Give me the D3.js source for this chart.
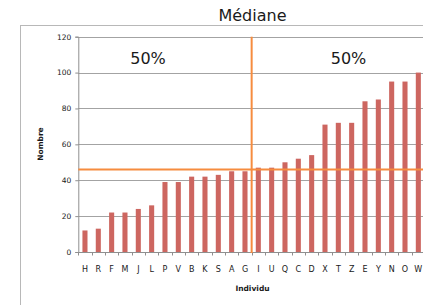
<!DOCTYPE html>
<html>
<head>
<meta charset="utf-8">
<script src="https://cdn.jsdelivr.net/npm/d3@7"></script>
<style>
  body { margin: 0; background: #fff; }
  text { font-family: "DejaVu Sans", sans-serif; fill: #1a1a1a; }
</style>
</head>
<body>
<svg id="chart"></svg>
<script>
// individus, triés par valeur
var individus = ["H","R","F","M","J","L","P","V","B","K","S","A","G","I","U","Q","C","D","X","T","Z","E","Y","N","O","W"];
var nombres   = [12, 13, 22, 22, 24, 26, 39, 39, 42, 42, 43, 45, 45, 47, 47, 50, 52, 54, 71, 72, 72, 84, 85, 95, 95, 100];
var yTicks    = [0, 20, 40, 60, 80, 100, 120];
var halfLabels = ["50%", "50%"];

var W = 423, H = 305;
var plot = {left: 78.3, right: 425, top: 36.7, bottom: 252};

var data = individus.map(function(d, i) { return {name: d, value: nombres[i]}; });
var mediane = d3.median(nombres);

var svg = d3.select('#chart')
    .attr('width', W)
    .attr('height', H);

// cadre du graphique
svg.append("rect")
    .attr("x", 20.5).attr("y", 25.5)
    .attr("width", 450).attr("height", 320)
    .attr("fill", "none")
    .attr("stroke", "#b8b8b8");

var x = d3.scaleBand()
    .domain(individus)
    .range([plot.left, plot.right])
    .paddingInner(0.62)
    .paddingOuter(0.31);

var y = d3.scaleLinear()
    .domain([0, 120])
    .range([plot.bottom, plot.top]);

// grille horizontale
svg.append("g").selectAll("line")
    .data(yTicks.slice(1))
    .enter().append("line")
        .attr("x1", plot.left).attr("x2", W + 5)
        .attr("y1", d => Math.round(y(d)) + 0.5)
        .attr("y2", d => Math.round(y(d)) + 0.5)
        .attr("stroke", "#a3a3a3");

// barres
svg.append("g").selectAll("rect")
    .data(data)
    .enter().append("rect")
        .attr("x", d => x(d.name))
        .attr("y", d => y(d.value))
        .attr("width", x.bandwidth())
        .attr("height", d => y(0) - y(d.value))
        .attr("fill", "#cd6660");

// axe Y
var yAxis = svg.append("g")
    .attr("transform", "translate(" + plot.left + ",0)")
    .call(d3.axisLeft(y).tickValues(yTicks).tickSize(3).tickPadding(4));
yAxis.select(".domain").attr("stroke", "#8f8f8f");
yAxis.selectAll(".tick line").attr("stroke", "#8f8f8f");
yAxis.selectAll(".tick text")
    .style("font-family", "DejaVu Sans, sans-serif")
    .style("font-size", "7.5px")
    .attr("fill", "#222");

// axe X
var xg = svg.append("g");
xg.append("line")
    .attr("x1", plot.left).attr("x2", W + 5)
    .attr("y1", y(0) + 0.5).attr("y2", y(0) + 0.5)
    .attr("stroke", "#8f8f8f");
var gap = (x.step() - x.bandwidth()) / 2;
xg.selectAll("line.tk")
    .data(individus)
    .enter().append("line")
        .attr("class", "tk")
        .attr("x1", d => Math.round(x(d) - gap) + 0.5)
        .attr("x2", d => Math.round(x(d) - gap) + 0.5)
        .attr("y1", y(0)).attr("y2", y(0) + 3.5)
        .attr("stroke", "#8f8f8f");
xg.selectAll("text")
    .data(individus)
    .enter().append("text")
        .attr("x", d => x(d) + x.bandwidth() / 2)
        .attr("y", 272)
        .attr("text-anchor", "middle")
        .style("font-size", "8px")
        .text(d => d);

// médiane
var xMed = x(individus[13]) - gap;
svg.append("line")
    .attr("x1", xMed).attr("x2", xMed)
    .attr("y1", y(120)).attr("y2", y(0) + 1)
    .attr("stroke", "#f68c3f")
    .attr("stroke-width", 2);
svg.append("line")
    .attr("x1", plot.left).attr("x2", W + 5)
    .attr("y1", y(mediane)).attr("y2", y(mediane))
    .attr("stroke", "#f68c3f")
    .attr("stroke-width", 2);

// textes
svg.append("text")
    .attr("x", 252.5).attr("y", 20.5)
    .attr("text-anchor", "middle")
    .style("font-size", "16px")
    .text("Médiane");

svg.selectAll("text.half")
    .data(halfLabels)
    .enter().append("text")
        .attr("class", "half")
        .attr("x", (d, i) => i == 0 ? 148 : 348.5)
        .attr("y", 64)
        .attr("text-anchor", "middle")
        .style("font-size", "16px")
        .text(d => d);

svg.append("text")
    .attr("transform", "translate(43,144) rotate(-90)")
    .attr("text-anchor", "middle")
    .style("font-size", "7.5px")
    .style("font-weight", "bold")
    .text("Nombre");

svg.append("text")
    .attr("x", 252.5).attr("y", 291)
    .attr("text-anchor", "middle")
    .style("font-size", "7.5px")
    .style("font-weight", "bold")
    .text("Individu");
</script>
</body>
</html>
